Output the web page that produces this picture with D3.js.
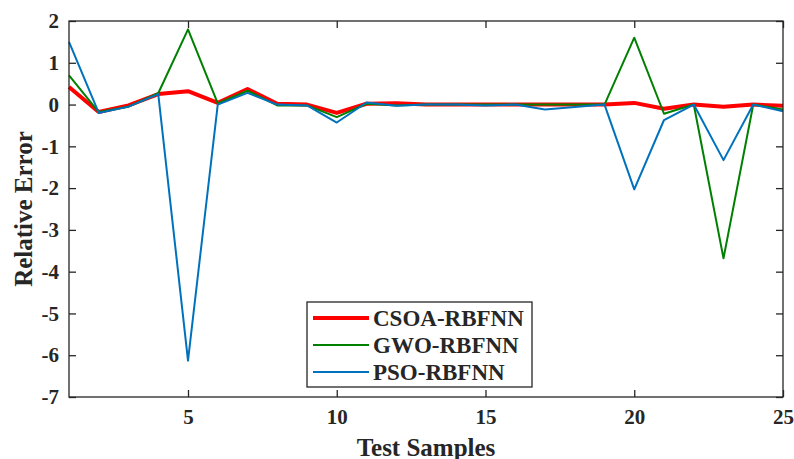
<html>
<head>
<meta charset="utf-8">
<script src="https://d3js.org/d3.v7.min.js"></script>
<style>
  body { margin: 0; background: #fff; }
  text { font-family: "Liberation Serif", "Times New Roman", serif; font-weight: bold; fill: #262626; }
</style>
</head>
<body>
<svg id="MAINSVG" width="794" height="459"></svg>
<script>
var samples = d3.range(1, 26);
var csoa = [0.42, -0.18, -0.02, 0.25, 0.32, 0.04, 0.37, 0.02, 0.0, -0.2, 0.02, 0.03, 0.0, 0.0, 0.0, 0.0, 0.0, 0.0, 0.0, 0.04, -0.1, 0.0, -0.05, 0.0, -0.03];
var gwo = [0.7, -0.18, -0.05, 0.27, 1.8, 0.03, 0.33, -0.02, -0.02, -0.3, 0.02, -0.02, 0.0, 0.0, 0.0, 0.0, 0.0, 0.0, 0.0, 1.6, -0.22, 0.0, -3.68, 0.0, -0.12];
var pso = [1.5, -0.2, -0.05, 0.25, -6.13, 0.0, 0.28, 0.0, -0.02, -0.43, 0.05, -0.03, 0.0, 0.0, -0.02, 0.0, -0.12, -0.06, 0.0, -2.03, -0.37, 0.0, -1.33, 0.0, -0.16];
var seriesNames = ["CSOA-RBFNN", "GWO-RBFNN", "PSO-RBFNN"];
var seriesColors = ["#ff0000", "#008000", "#0072bd"];
var seriesWidths = [4, 2, 2];
var xTicks = [5, 10, 15, 20, 25];
var yTicks = [2, 1, 0, -1, -2, -3, -4, -5, -6, -7];

var SVG = d3.select("#MAINSVG");
var plotL = 69, plotR = 783, plotT = 21, plotB = 397;

var x = d3.scaleLinear().domain([1, 25]).range([plotL, plotR]);
var y = d3.scaleLinear().domain([-7, 2]).range([plotB, plotT]);

// axes, ticks inward
var tickLen = 7;
var plainFmt = function(d) { return String(d); };
var xb = SVG.append("g").attr("transform", "translate(0," + plotB + ")")
  .call(d3.axisBottom(x).tickValues(xTicks).tickFormat(plainFmt).tickSizeInner(-tickLen).tickSizeOuter(0).tickPadding(12));
var xt = SVG.append("g").attr("transform", "translate(0," + plotT + ")")
  .call(d3.axisTop(x).tickValues(xTicks).tickSizeInner(-tickLen).tickSizeOuter(0).tickFormat(""));
var yl = SVG.append("g").attr("transform", "translate(" + plotL + ",0)")
  .call(d3.axisLeft(y).tickValues(yTicks).tickFormat(plainFmt).tickSizeInner(-tickLen).tickSizeOuter(0).tickPadding(10));
var yr = SVG.append("g").attr("transform", "translate(" + plotR + ",0)")
  .call(d3.axisRight(y).tickValues(yTicks).tickSizeInner(-tickLen).tickSizeOuter(0).tickFormat(""));

[xb, xt, yl, yr].forEach(function(g) {
  g.select(".domain").remove();
  g.selectAll(".tick line").attr("stroke", "#262626").attr("stroke-width", 1.3);
  g.selectAll(".tick text").style("font-size", "21px").style("font-family", "Liberation Serif").style("font-weight", "bold").attr("fill", "#262626");
});

// lines
var line = d3.line().x(function(d) { return x(d[0]); }).y(function(d) { return y(d[1]); });
var allSeries = [csoa, gwo, pso];
[0, 1, 2].forEach(function(k) {
  SVG.append("path")
    .datum(samples.map(function(s, i) { return [s, allSeries[k][i]]; }))
    .attr("d", line)
    .attr("fill", "none")
    .attr("stroke", seriesColors[k])
    .attr("stroke-width", seriesWidths[k])
    .attr("stroke-linejoin", "round");
});

// box on top
SVG.append("rect")
  .attr("x", plotL).attr("y", plotT)
  .attr("width", plotR - plotL).attr("height", plotB - plotT)
  .attr("fill", "none").attr("stroke", "#262626").attr("stroke-width", 1.3);

// axis titles
SVG.append("text")
  .attr("x", (plotL + plotR) / 2).attr("y", 456)
  .attr("text-anchor", "middle")
  .style("font-size", "25px")
  .text("Test Samples");
SVG.append("text")
  .attr("transform", "translate(32," + ((plotT + plotB) / 2) + ") rotate(-90)")
  .attr("text-anchor", "middle")
  .style("font-size", "25px")
  .text("Relative Error");

// legend
var lg = SVG.append("g");
lg.append("rect")
  .attr("x", 307).attr("y", 302).attr("width", 225).attr("height", 85)
  .attr("fill", "#fff").attr("stroke", "#262626").attr("stroke-width", 1.3);
seriesNames.forEach(function(name, i) {
  var yy = 318 + i * 27;
  lg.append("line")
    .attr("x1", 313).attr("x2", 369).attr("y1", yy).attr("y2", yy)
    .attr("stroke", seriesColors[i]).attr("stroke-width", seriesWidths[i]);
  lg.append("text")
    .attr("x", 373).attr("y", yy).attr("dy", "0.35em")
    .style("font-size", "23px")
    .attr("fill", "#000")
    .text(name);
});
</script>
</body>
</html>
